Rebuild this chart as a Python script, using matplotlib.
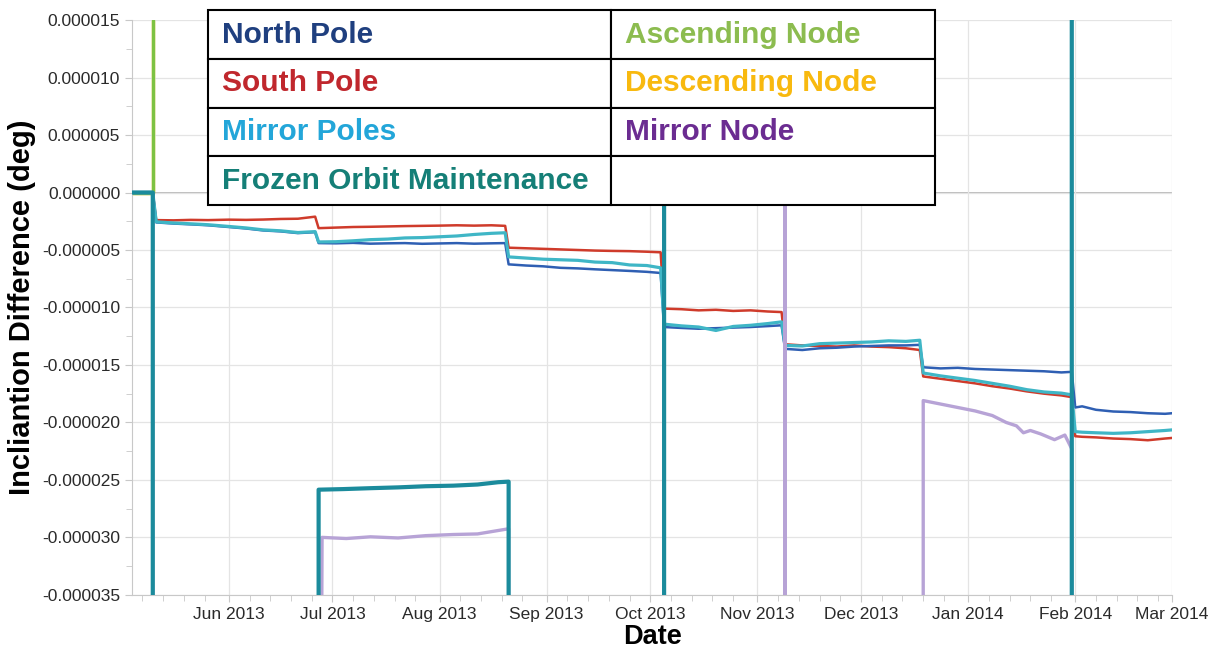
import numpy as np
import pandas as pd
import matplotlib
matplotlib.use("Agg")
import matplotlib.pyplot as plt
import matplotlib.dates as mdates
from matplotlib.ticker import MultipleLocator, FuncFormatter

plt.rcParams['font.family'] = ['Liberation Sans', 'DejaVu Sans']

# --- data (inclination difference in micro-degrees) ---
pole_dates = [
    "2013-05-04", "2013-05-10", "2013-05-11", "2013-05-16", "2013-05-21", "2013-05-26",
    "2013-06-01", "2013-06-06", "2013-06-11", "2013-06-16", "2013-06-21", "2013-06-26",
    "2013-06-27", "2013-07-02", "2013-07-07", "2013-07-12", "2013-07-17", "2013-07-22",
    "2013-07-27", "2013-08-01", "2013-08-06", "2013-08-11", "2013-08-16", "2013-08-20",
    "2013-08-21", "2013-08-26", "2013-08-31", "2013-09-05", "2013-09-10", "2013-09-15",
    "2013-09-20", "2013-09-25", "2013-09-30", "2013-10-04",
    "2013-10-05", "2013-10-10", "2013-10-15", "2013-10-20", "2013-10-25", "2013-10-30",
    "2013-11-04", "2013-11-08",
    "2013-11-09", "2013-11-14", "2013-11-19", "2013-11-24", "2013-11-29", "2013-12-04",
    "2013-12-09", "2013-12-14", "2013-12-18",
    "2013-12-19", "2013-12-24", "2013-12-29", "2014-01-03", "2014-01-08", "2014-01-13",
    "2014-01-18", "2014-01-23", "2014-01-28", "2014-01-31",
    "2014-02-01", "2014-02-03", "2014-02-07", "2014-02-12", "2014-02-17", "2014-02-22",
    "2014-02-27", "2014-03-01",
]

north_pole = [
    0, 0, -2.60, -2.70, -2.77, -2.85, -3.00, -3.13, -3.30, -3.38, -3.53, -3.45,
    -4.40, -4.42, -4.38, -4.45, -4.42, -4.40, -4.46, -4.43, -4.40, -4.45, -4.42, -4.40,
    -6.25, -6.35, -6.42, -6.55, -6.60, -6.68, -6.75, -6.82, -6.90, -7.00,
    -11.70, -11.78, -11.85, -11.80, -11.75, -11.70, -11.62, -11.55,
    -13.60, -13.70, -13.55, -13.50, -13.40, -13.35, -13.30, -13.30, -13.25,
    -15.20, -15.30, -15.25, -15.35, -15.40, -15.45, -15.50, -15.55, -15.65, -15.60,
    -18.70, -18.60, -18.90, -19.05, -19.10, -19.20, -19.25, -19.20,
]

south_pole = [
    0, 0, -2.40, -2.42, -2.38, -2.40, -2.36, -2.38, -2.35, -2.30, -2.28, -2.10,
    -3.10, -3.05, -3.00, -2.98, -2.95, -2.92, -2.90, -2.88, -2.85, -2.88, -2.85, -2.90,
    -4.80, -4.85, -4.90, -4.95, -5.00, -5.05, -5.08, -5.10, -5.15, -5.20,
    -10.10, -10.15, -10.25, -10.20, -10.30, -10.25, -10.35, -10.40,
    -13.20, -13.30, -13.35, -13.40, -13.30, -13.40, -13.45, -13.55, -13.70,
    -16.00, -16.20, -16.40, -16.60, -16.85, -17.05, -17.30, -17.50, -17.65, -17.80,
    -21.20, -21.25, -21.30, -21.40, -21.45, -21.55, -21.40, -21.35,
]

mirror_poles = [
    0, 0, -2.55, -2.65, -2.72, -2.80, -2.95, -3.08, -3.25, -3.33, -3.48, -3.40,
    -4.30, -4.28, -4.20, -4.10, -4.05, -3.95, -3.92, -3.85, -3.78, -3.65, -3.55, -3.50,
    -5.60, -5.70, -5.80, -5.85, -5.90, -6.05, -6.10, -6.30, -6.35, -6.55,
    -11.45, -11.60, -11.70, -12.00, -11.65, -11.55, -11.40, -11.25,
    -13.30, -13.35, -13.15, -13.10, -13.05, -13.00, -12.90, -12.95, -12.85,
    -15.70, -15.95, -16.15, -16.35, -16.60, -16.85, -17.15, -17.35, -17.45, -17.60,
    -20.80, -20.85, -20.90, -20.95, -20.90, -20.80, -20.70, -20.65,
]

# frozen orbit maintenance: mostly off scale (+/-100), visible in Jul-Aug 2013
frozen_dates = [
    "2013-05-04", "2013-05-10", "2013-05-10", "2013-06-27", "2013-06-27", "2013-07-04",
    "2013-07-12", "2013-07-20", "2013-07-28", "2013-08-05", "2013-08-12", "2013-08-18",
    "2013-08-21", "2013-08-21", "2013-10-05", "2013-10-05", "2014-01-31", "2014-01-31",
    "2014-03-01",
]
frozen_orbit = [
    0, 0, -100, -100, -25.85, -25.80, -25.72, -25.65, -25.55, -25.50, -25.40, -25.20,
    -25.15, -100, -100, 100, 100, -100, -100,
]

mirror_node_dates = [
    "2013-05-04", "2013-05-10", "2013-05-10", "2013-06-27", "2013-06-28", "2013-07-05",
    "2013-07-12", "2013-07-20", "2013-07-28", "2013-08-05", "2013-08-12", "2013-08-18",
    "2013-08-21", "2013-08-21", "2013-11-09", "2013-11-09", "2013-11-09", "2013-12-19",
    "2013-12-19", "2013-12-24", "2013-12-29", "2014-01-03", "2014-01-08", "2014-01-12",
    "2014-01-15", "2014-01-17", "2014-01-19", "2014-01-22", "2014-01-26", "2014-01-29",
    "2014-01-31", "2014-01-31", "2014-03-01",
]
mirror_node = [
    0, 0, -100, -100, -30.0, -30.1, -29.95, -30.05, -29.85, -29.75, -29.7, -29.4,
    -29.25, -100, -100, 100, -100, -100,
    -18.1, -18.4, -18.7, -19.0, -19.4, -20.0,
    -20.3, -20.9, -20.7, -21.0, -21.5, -21.1,
    -22.3, -100, -100,
]

node_dates = ["2013-05-04", "2013-05-10", "2013-05-10", "2014-03-01"]
ascending_node = [0, 0, 100, 100]
descending_node = [0, 0, 100, 100]

legend_rows = [
    ["North Pole", "Ascending Node"],
    ["South Pole", "Descending Node"],
    ["Mirror Poles", "Mirror Node"],
    ["Frozen Orbit Maintenance", ""],
]
legend_colors = [
    ["#1f3f7f", "#8cbc4f"],
    ["#c0272d", "#f8b90f"],
    ["#23a6d9", "#6b2c91"],
    ["#157f77", "#000000"],
]

# --- plot ---
fig = plt.figure(figsize=(12.17, 6.48), dpi=100)
ax = fig.add_axes([0.1085, 0.082, 0.8545, 0.887])

pd_ = pd.to_datetime(pole_dates)
scale = 1e-6
ax.plot(pd.to_datetime(node_dates), np.array(descending_node) * scale,
        color="#f7b500", lw=2.4, zorder=1.5)
ax.plot(pd.to_datetime(node_dates), np.array(ascending_node) * scale,
        color="#7dc242", lw=2.4, zorder=1.6)
ax.plot(pd_, np.array(south_pole) * scale, color="#cf3b2b", lw=1.8, zorder=2)
ax.plot(pd_, np.array(north_pole) * scale, color="#2f5fb3", lw=1.8, zorder=3)
ax.plot(pd_, np.array(mirror_poles) * scale, color="#3fb6c6", lw=2.3, zorder=4)
ax.plot(pd.to_datetime(mirror_node_dates), np.array(mirror_node) * scale,
        color="#b7a3d6", lw=2.4, zorder=5)
ax.plot(pd.to_datetime(frozen_dates), np.array(frozen_orbit) * scale,
        color="#1b8b9c", lw=3.0, zorder=6)

ax.set_xlim(pd.Timestamp("2013-05-04"), pd.Timestamp("2014-03-01"))
ax.set_ylim(-35e-6, 15e-6)

ax.yaxis.set_major_locator(MultipleLocator(5e-6))
ax.yaxis.set_minor_locator(MultipleLocator(2.5e-6))
ax.yaxis.set_major_formatter(FuncFormatter(lambda v, p: f"{v:.6f}"))
ax.xaxis.set_major_locator(mdates.MonthLocator())
ax.xaxis.set_minor_locator(mdates.DayLocator(bymonthday=[7, 13, 19, 25]))
ax.xaxis.set_major_formatter(mdates.DateFormatter("%b %Y"))

ax.grid(True, which="major", color="#e4e4e4", lw=0.9, zorder=0)
ax.axhline(0, color="#b5b5b5", lw=1.3, zorder=1)
for s in ["top", "right"]:
    ax.spines[s].set_visible(False)
for s in ["left", "bottom"]:
    ax.spines[s].set_color("#c8c8c8")
ax.tick_params(which="both", color="#c8c8c8", labelcolor="#2a2a2a", labelsize=12.5)
ax.tick_params(which="major", length=5)
ax.tick_params(which="minor", length=4)

ax.set_ylabel("Incliantion Difference (deg)", fontsize=21, fontweight="bold", labelpad=4)
ax.set_xlabel("Date", fontsize=19.5, fontweight="bold", labelpad=2)

tbl = ax.table(cellText=legend_rows, cellLoc="left", colWidths=[0.554, 0.446],
               bbox=[0.073, 0.678, 0.699, 0.339])
tbl.auto_set_font_size(False)
for (r, c), cell in tbl.get_celld().items():
    cell.set_edgecolor("black")
    cell.set_linewidth(1.5)
    cell.set_facecolor("white")
    cell.PAD = 0.035 if c == 0 else 0.043
    t = cell.get_text()
    t.set_color(legend_colors[r][c])
    t.set_fontsize(21.5)
    t.set_fontweight("bold")
tbl.set_zorder(10)
tbl.set_clip_on(False)

fig.savefig("out.png", dpi=100)
